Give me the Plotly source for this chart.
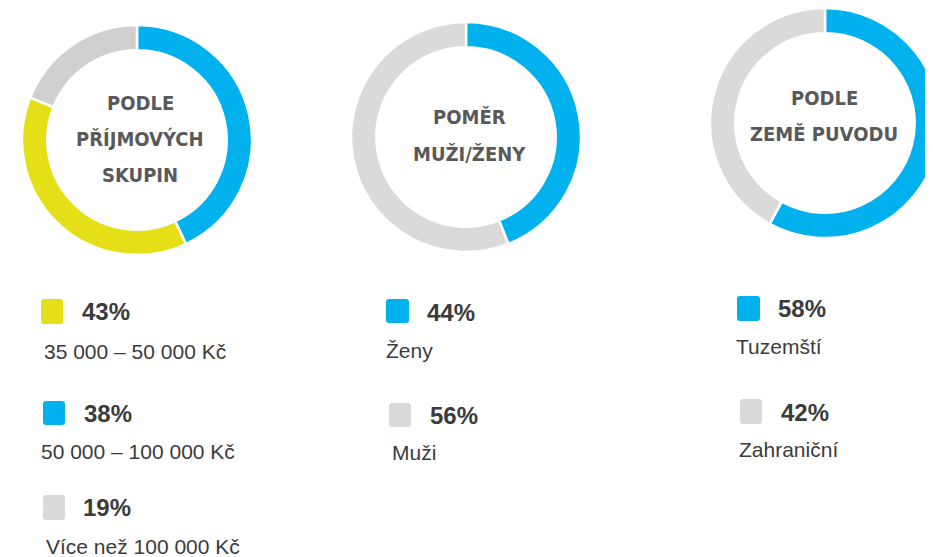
import plotly.graph_objects as go

W, H = 933, 557
OFF = 8  # the page body adds an 8px margin around the figure

# ---- data ----
income_labels = ["50 000 – 100 000 Kč", "35 000 – 50 000 Kč", "Více než 100 000 Kč"]
income_values = [43, 38, 19]          # arcs as drawn in the donut
income_colors = ["#00b1ee", "#e5df18", "#d1d0d1"]

gender_labels = ["Ženy", "Muži"]
gender_values = [44, 56]
gender_colors = ["#00b1ee", "#dadada"]

origin_labels = ["Tuzemští", "Zahraniční"]
origin_values = [58, 42]
origin_colors = ["#00b1ee", "#dadada"]

titles = [["PODLE", "PŘÍJMOVÝCH", "SKUPIN"], ["POMĚR", "MUŽI/ŽENY"], ["PODLE", "ZEMĚ PUVODU"]]

legend1_pct = ["43%", "38%", "19%"]
legend1_txt = ["35 000 – 50 000 Kč", "50 000 – 100 000 Kč", "Více než 100 000 Kč"]
legend1_col = ["#e5df18", "#00b1ee", "#d9d9d9"]
legend2_pct = ["44%", "56%"]
legend2_txt = ["Ženy", "Muži"]
legend2_col = ["#00b1ee", "#d9d9d9"]
legend3_pct = ["58%", "42%"]
legend3_txt = ["Tuzemští", "Zahraniční"]
legend3_col = ["#00b1ee", "#d9d9d9"]

# ---- helpers (screen pixel -> paper) ----
def px(x):
    return (x - OFF) / W

def py(y):
    return 1 - (y - OFF) / H

def dom(x0, x1, y0, y1):
    return dict(x=[max(0, px(x0)), min(1, px(x1))], y=[max(0, py(y1)), min(1, py(y0))])

fig = go.Figure()

pies = [
    (income_labels, income_values, income_colors, dom(22, 252, 25, 255), 0.78),
    (gender_labels, gender_values, gender_colors, dom(351, 581, 22, 252), 0.78),
    (origin_labels, origin_values, origin_colors, dom(710, 940, 8, 238), 0.78),
]
for labels, values, colors, d, hole in pies:
    fig.add_trace(go.Pie(
        labels=labels, values=values, hole=hole, sort=False, direction="clockwise",
        rotation=0, marker=dict(colors=colors, line=dict(color="white", width=2.5)),
        textinfo="none", hoverinfo="label+percent", showlegend=False, domain=d,
    ))

title_font = dict(family="DejaVu Sans Condensed, Liberation Sans Narrow, sans-serif", size=20, color="#595959")
title_pos = [(140, [103, 139, 175]), (469, [117, 154]), (824, [98, 134])]
for (cx, ys), lines in zip(title_pos, titles):
    for y, t in zip(ys, lines):
        fig.add_annotation(x=px(cx), y=py(y), xref="paper", yref="paper", text="<b>%s</b>" % t,
                           showarrow=False, font=title_font, xanchor="center", yanchor="middle")

pct_font = dict(family="Liberation Sans, Arial, sans-serif", size=24, color="#3b3b3b")
lbl_font = dict(family="Liberation Sans, Arial, sans-serif", size=21, color="#3b3b3b")

def rounded_square(x0, y0, x1, y1, r=3):
    X0, X1 = px(x0), px(x1)
    Y0, Y1 = py(y0), py(y1)
    rx, ry = r / W, r / H
    return (f"M{X0+rx},{Y0} L{X1-rx},{Y0} Q{X1},{Y0} {X1},{Y0-ry} L{X1},{Y1+ry} "
            f"Q{X1},{Y1} {X1-rx},{Y1} L{X0+rx},{Y1} Q{X0},{Y1} {X0},{Y1+ry} L{X0},{Y0-ry} "
            f"Q{X0},{Y0} {X0+rx},{Y0} Z")

legend_layout = [
    (legend1_pct, legend1_txt, legend1_col,
     [(41, 299, 63, 324), (43, 401, 65, 425), (43, 495, 65, 520)],
     [(82, 311), (84, 413), (83, 507)],
     [(44, 351), (41, 451), (46, 546)]),
    (legend2_pct, legend2_txt, legend2_col,
     [(386, 299, 409, 323), (389, 403, 411, 427)],
     [(427, 312), (430, 415)],
     [(386, 350), (392, 452)]),
    (legend3_pct, legend3_txt, legend3_col,
     [(737, 296, 760, 321), (740, 399, 762, 424)],
     [(778, 308), (781, 412)],
     [(736, 346), (739, 449)]),
]
for pcts, txts, cols, sqs, ppos, lpos in legend_layout:
    for p, t, c, sq, pp, lp in zip(pcts, txts, cols, sqs, ppos, lpos):
        fig.add_shape(type="path", xref="paper", yref="paper", path=rounded_square(*sq),
                      fillcolor=c, line=dict(width=0))
        fig.add_annotation(x=px(pp[0]), y=py(pp[1]), xref="paper", yref="paper",
                           text="<b>%s</b>" % p, showarrow=False, font=pct_font,
                           xanchor="left", yanchor="middle", xshift=-2)
        fig.add_annotation(x=px(lp[0]), y=py(lp[1]), xref="paper", yref="paper",
                           text=t, showarrow=False, font=lbl_font,
                           xanchor="left", yanchor="middle", xshift=-2)

fig.update_layout(
    width=W, height=H, margin=dict(l=0, r=0, t=0, b=0),
    paper_bgcolor="white", plot_bgcolor="white",
)

fig.write_html("out.html")
